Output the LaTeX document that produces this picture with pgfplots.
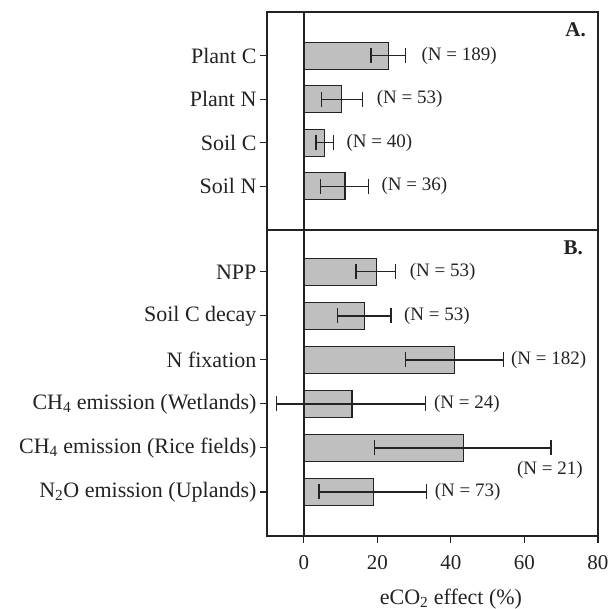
\documentclass[border=0pt]{standalone}
\usepackage{fontspec}
\setmainfont{Liberation Serif}
\usepackage{pgfplots}
\pgfplotsset{compat=1.18}
\definecolor{barfill}{RGB}{191,191,191}
\definecolor{ink}{RGB}{35,35,35}
\tikzset{nlab/.style={font=\fontsize{19}{21}\selectfont, text=ink, inner sep=0pt}}
\begin{document}
\begin{tikzpicture}
\useasboundingbox (0pt,0pt) rectangle (607pt,-609pt);
\pgfplotsset{
 common/.style={
  scale only axis, width=331pt, xmin=-10, xmax=80, ymin=0,
  axis line style={line width=1.4pt, ink},
  tick style={line width=1.1pt, ink},
  tick align=outside, major tick length=7pt,
  ytick pos=left, xtick pos=bottom,
  xbar, bar width=27pt,
  y tick label style={font=\fontsize{22}{24}\selectfont, text=ink},
  x tick label style={font=\fontsize{21}{23}\selectfont, text=ink, yshift=-9pt},
  /pgf/number format/assume math mode=true,
  clip=false,
 },
 barsty/.style={fill=barfill, draw=ink, line width=1.1pt,
   error bars/.cd, x dir=both, x explicit, error mark=|,
   error bar style={line width=1.3pt, ink},
   error mark options={mark size=7.5pt, line width=1.3pt, ink}},
}
% Panel A
\begin{axis}[common, at={(267pt,-230pt)}, anchor=south west, height=218pt, ymax=5,
  ytick={1,2,3,4}, yticklabels={Soil N,Soil C,Plant N,Plant C}, xtick=\empty]
\addplot[barsty] coordinates {
 (23.0,4) += (4.7,0) -= (4.7,0)
 (10.3,3) += (5.6,0) -= (5.5,0)
 (5.6,2)  += (2.4,0) -= (2.3,0)
 (11.2,1) += (6.4,0) -= (6.7,0)
};
\draw[line width=1.5pt, ink] (axis cs:0,0) -- (axis cs:0,5);
\node[nlab, anchor=west] at (axis cs:32.0,4) {(N = 189)};
\node[nlab, anchor=west] at (axis cs:19.8,3) {(N = 53)};
\node[nlab, anchor=west] at (axis cs:11.6,2) {(N = 40)};
\node[nlab, anchor=west] at (axis cs:21.1,1) {(N = 36)};
\node[font=\bfseries\fontsize{21}{23}\selectfont, text=ink, anchor=east, inner sep=0pt] at (rel axis cs:0.964,0.917) {A.};
\end{axis}
% Panel B
\begin{axis}[common, at={(267pt,-536pt)}, anchor=south west, height=306pt, ymax=6.95,
  ytick={1,2,3,4,5,6},
  yticklabels={N\textsubscript{2}O emission\ (Uplands),CH\textsubscript{4} emission (Rice fields),CH\textsubscript{4} emission (Wetlands),N fixation,Soil C decay,NPP},
  xtick={0,20,40,60,80},
  xlabel={eCO\textsubscript{2} effect (\%)},
  xlabel style={font=\fontsize{22}{24}\selectfont, text=ink, at={(ticklabel cs:0.5556)}, anchor=north, yshift=-12pt}]
\addplot[barsty] coordinates {
 (19.8,6) += (5.2,0) -= (5.6,0)
 (16.5,5) += (7.2,0) -= (7.3,0)
 (41.0,4) += (13.4,0) -= (13.3,0)
 (13.1,3) += (20.0,0) -= (20.5,0)
 (43.4,2) += (23.8,0) -= (24.1,0)
 (18.9,1) += (14.4,0) -= (14.8,0)
};
\draw[line width=1.5pt, ink] (axis cs:0,0) -- (axis cs:0,6.95);
\node[nlab, anchor=west] at (axis cs:28.8,6) {(N = 53)};
\node[nlab, anchor=west] at (axis cs:27.2,5) {(N = 53)};
\node[nlab, anchor=west] at (axis cs:56.3,4) {(N = 182)};
\node[nlab, anchor=west] at (axis cs:35.4,3) {(N = 24)};
\node[nlab, anchor=center] at (axis cs:66.9,1.5) {(N = 21)};
\node[nlab, anchor=west] at (axis cs:35.6,1) {(N = 73)};
\node[font=\bfseries\fontsize{21}{23}\selectfont, text=ink, anchor=east, inner sep=0pt] at (rel axis cs:0.955,0.941) {B.};
\end{axis}
\end{tikzpicture}
\end{document}
